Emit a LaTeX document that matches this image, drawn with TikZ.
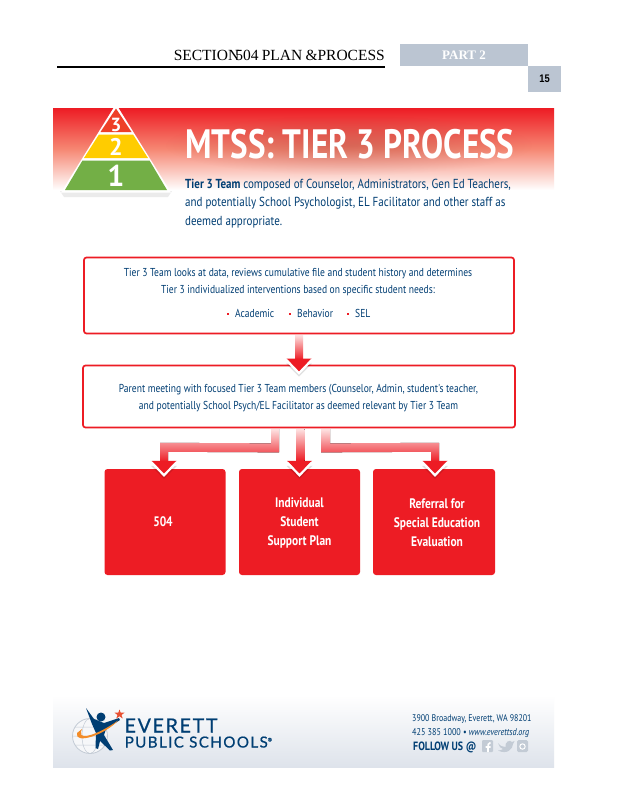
\documentclass[tikz,border=0pt]{standalone}
\usepackage{fontspec}
\usetikzlibrary{calc,shadings,fadings}
\setmainfont{PT Sans}
\newfontfamily\hdr{Liberation Serif}
\newfontfamily\arialf[FakeStretch=0.85]{Liberation Sans}
\newfontfamily\logof[LetterSpace=9,FakeBold=0.6]{Lato}
\newfontfamily\tight[FakeStretch=0.83]{PT Sans}
\newfontfamily\subf[FakeStretch=0.84]{PT Sans}
\newfontfamily\titlef[FakeStretch=0.807]{PT Sans}
\tikzfading[name=softband,inner color=transparent!0,outer color=transparent!100]
\definecolor{redm}{RGB}{237,28,36}
\definecolor{navym}{RGB}{0,62,115}
\definecolor{slatem}{RGB}{187,197,210}
\definecolor{pale}{RGB}{253,225,225}
\definecolor{iconm}{RGB}{195,203,213}
\definecolor{salmon}{RGB}{246,135,115}
\definecolor{footg}{RGB}{222,227,235}
\definecolor{tierc}{RGB}{238,64,40}
\definecolor{tierb}{RGB}{255,204,0}
\definecolor{tiera}{RGB}{115,175,70}
\definecolor{starc}{RGB}{232,80,50}
\definecolor{swoosh}{RGB}{243,140,40}
\definecolor{shadowm}{RGB}{150,50,40}
\tikzset{
  whitebox/.style={draw=redm,line width=1.7pt,rounded corners=2.5pt,fill=white,minimum height=0pt,inner sep=0pt},
  redbox/.style={fill=redm,rounded corners=3pt,text=white,align=center,font=\tight\bfseries\fontsize{13.8}{19}\selectfont,inner sep=0pt},
  bodytxt/.style={text=navym,align=center,font=\tight\fontsize{11.5}{17}\selectfont,inner sep=0pt},
  shaft/.style={top color=pale,bottom color=redm,draw=none},
  digit/.style={text=white,inner sep=0pt},
  lefttxt/.style={anchor=base west,inner sep=0pt},
  bul/.style={fill=redm,minimum size=2pt,inner sep=0pt}
}
\newcommand{\headto}[1]{%
  \fill[black,opacity=.12] ($(#1)+(-13,-11)$) -- ($(#1)+(0,2)$) -- ($(#1)+(13,-11)$) -- cycle;
  \fill[redm] ($(#1)+(-12.5,-16)$) -- ($(#1)+(12.5,-16)$) -- ($(#1)+(0,-3)$) -- cycle;
  \draw[white,line width=2.2pt] ($(#1)+(-12.5,-14.5)$) -- ($(#1)+(0,-1.5)$) -- ($(#1)+(12.5,-14.5)$);}
\begin{document}
\begin{tikzpicture}[x=1pt,y=-1pt]
\useasboundingbox (0,0) rectangle (618,800);
\fill[white] (0,0) rectangle (618,800);
% header
\node[anchor=base east,inner sep=0pt,font=\hdr\fontsize{15.5}{15.5}\selectfont,text=black] (hd) at (385,60) {\spaceskip=3.2pt SECTION\hspace{-7pt} 504 PLAN \&PROCESS};
\draw[black,line width=1.7pt] (57,67) coordinate (r1) -- (385,67) coordinate (r2);
\node[fill=slatem,minimum width=128pt,minimum height=22pt,inner sep=0pt,text=white,font=\hdr\bfseries\fontsize{13}{13}\selectfont] (part) at (464,55) {PART 2};
\node[fill=slatem,minimum width=33pt,minimum height=26pt,inner sep=0pt,text=black,font=\arialf\bfseries\fontsize{11}{11}\selectfont] (pg) at (544.5,79) {15};
% banner
\shade[top color=redm,bottom color=white,middle color=salmon] (53,108) rectangle (554,190);
% soft shade behind the title
\fill[shadowm,opacity=.3,path fading=softband,fit fading=true] (165,115) rectangle (532,175);
% pyramid
\fill[black,opacity=.08] (60,191) -- (172,191) -- (168,197) -- (64,197) -- cycle;
\fill[white] (116,104) -- (171,192.5) -- (61,192.5) -- cycle;
\fill[tierc] (116,108.5) -- (131.5,132) -- (100.5,132) -- cycle;
\fill[tierb] (99,134.5) -- (133,134.5) -- (148,158) -- (84,158) -- cycle;
\fill[tiera] (82.5,160.5) -- (149.5,160.5) -- (167,190) -- (65,190) -- cycle;
\node[digit,font=\bfseries\fontsize{19}{19}\selectfont] (t3) at (116,124.5) {3};
\node[digit,font=\bfseries\fontsize{24}{24}\selectfont] (t2) at (116,147) {2};
\node[digit,font=\bfseries\fontsize{30}{30}\selectfont] (t1) at (116,175.5) {1};
% title
\node[lefttxt,text=white,font=\titlef\bfseries\fontsize{41}{41}\selectfont] (title) at (185,158) {MTSS: TIER 3 PROCESS};
\node[lefttxt,text=navym,font=\subf\fontsize{13.1}{13.1}\selectfont] (s1) at (185,188.5) {\textbf{Tier 3 Team} composed of Counselor, Administrators, Gen Ed Teachers,};
\node[lefttxt,text=navym,font=\subf\fontsize{13.1}{13.1}\selectfont] (s2) at (185,206.5) {and potentially School Psychologist, EL Facilitator and other staff as};
\node[lefttxt,text=navym,font=\subf\fontsize{13.1}{13.1}\selectfont] (s3) at (185,225.5) {deemed appropriate.};
% boxes
\node[whitebox,minimum width=430pt,minimum height=76pt] (b1) at (299,295.5) {};
\node[whitebox,minimum width=432pt,minimum height=62pt] (b2) at (299,396.5) {};
\node[redbox,minimum width=121pt,minimum height=106pt] (c1) at (165,522) {\raisebox{1pt}{504}\hspace*{4pt}};
\node[redbox,minimum width=121pt,minimum height=106pt] (c2) at (299.5,522) {\rule{0pt}{12pt}Individual\\Student\\Support Plan};
\node[redbox,minimum width=122pt,minimum height=106pt] (c3) at (434,522) {\rule{0pt}{12pt}\hspace*{6pt}Referral for\\\hspace*{6pt}Special Education\\\hspace*{6pt}Evaluation};
% text of boxes
\node[bodytxt] (t1a) at (298,282) {Tier 3 Team looks at data, reviews cumulative file and student history and determines\\Tier 3 individualized interventions based on specific student needs:};
\node[bul] (d1) at (228,314) {}; \node[bodytxt,anchor=west] (a1) at (235,313) {Academic};
\node[bul] (d2) at (290,314) {}; \node[bodytxt,anchor=west] (a2) at (297,313) {Behavior};
\node[bul] (d3) at (348,314) {}; \node[bodytxt,anchor=west] (a3) at (355,313) {SEL};
\node[bodytxt] (t2a) at (298.5,398.5) {Parent meeting with focused Tier 3 Team members (Counselor, Admin, student's teacher,\\and potentially School Psych/EL Facilitator as deemed relevant by Tier 3 Team};
% connectors
\coordinate (h0) at ($(b2.north)+(0,10)$);
\coordinate (h1) at ($(c1.north)+(-1,8)$);
\coordinate (h2) at ($(c2.north)+(0,8)$);
\coordinate (h3) at ($(c3.north)+(1,8)$);
\fill[shaft] ($(b1.south)+(-4,0.8)$) rectangle ($(b2.north)+(4,-5)$);
\headto{h0}
\fill[shaft] ($(b2.south)+(-3,0.8)$) rectangle ($(c2.north)+(5,-8)$);
\headto{h2}
\fill[shaft] ($(b2.south)+(-20,0.8)$) -- ($(b2.south)+(-20,24)$) -- ($(c1.north)+(3,-17)$) -- ($(c1.north)+(3,-7)$) -- ($(c1.north)+(-5,-7)$) -- ($(c1.north)+(-5,-26)$) -- ($(b2.south)+(-28,15)$) -- ($(b2.south)+(-28,0.8)$) -- cycle;
\headto{h1}
\fill[shaft] ($(b2.south)+(22,0.8)$) -- ($(b2.south)+(22,24)$) -- ($(c3.north)+(-3,-17)$) -- ($(c3.north)+(-3,-7)$) -- ($(c3.north)+(5,-7)$) -- ($(c3.north)+(5,-26)$) -- ($(b2.south)+(31,15)$) -- ($(b2.south)+(31,0.8)$) -- cycle;
\headto{h3}
% footer
\shade[top color=white,bottom color=footg] (53,695) rectangle (554,767);
% logo
\draw[iconm,line width=.8pt,fill=white!85!iconm] (90,736) circle (17.5);
\draw[iconm,line width=.5pt] (90,736) ellipse (8 and 17.5) (72.5,736) -- (107.5,736) (75,727) -- (105,727) (75,745) -- (105,745);
\fill[navym] (86,708) -- (94,719) -- (104,723) -- (119,718) -- (120,720) -- (106,729) -- (104,735) -- (113,750) -- (110,750.5) -- (100,741) -- (98,749) -- (95.5,748) -- (96,733) -- (92,724) -- cycle;
\fill[navym] (101,717) circle (4.5);
\fill[swoosh] (77,733) .. controls (74,745) and (105,735) .. (118,720.5) .. controls (105,730) and (86,739) .. (81.5,735) .. controls (80.5,733) and (81,730) .. (82,729) -- cycle;
\fill[starc] (119.5,709.5) -- (120.7,712.7) -- (124.5,712.7) -- (121.5,715) -- (122.7,718.5) -- (119.5,716.3) -- (116.3,718.5) -- (117.5,715) -- (114.5,712.7) -- (118.3,712.7) -- cycle;
\node[lefttxt,text=navym,font=\logof\fontsize{19.5}{19.5}\selectfont] (ev) at (124.5,732.5) {EVERETT};
\node[lefttxt,text=navym,font=\logof\fontsize{15.2}{15.2}\selectfont] (pu) at (124.5,747.5) {PUBLIC SCHOOLS\raisebox{6pt}{\fontsize{5}{5}\selectfont ®}};
\node[lefttxt,text=navym,font=\tight\fontsize{9.6}{9.6}\selectfont] (f1) at (412,721.5) {3900 Broadway, Everett, WA 98201};
\node[lefttxt,text=navym,font=\tight\fontsize{9.8}{9.8}\selectfont] (f2) at (412,735.5) {425 385 1000 • \textit{www.everettsd.org}};
\node[lefttxt,text=navym,font=\tight\bfseries\fontsize{12}{12}\selectfont] (f3) at (413,750.5) {FOLLOW US @};
% icons
\fill[iconm,rounded corners=1pt] (482,740) rectangle (493,752);
\draw[white,line width=1.6pt] (490.5,742.5) .. controls (488,742.5) and (488,744) .. (488,752) (485.5,747) -- (490.5,747);
\fill[iconm] (498,743) .. controls (500,746) and (503,747) .. (505.5,747) .. controls (504.5,742) and (510,739) .. (512,742) -- (514.5,741) -- (513,744) .. controls (513,749) and (507,755) .. (498,750.5) .. controls (500,750.5) and (502,750) .. (503,749) .. controls (500.5,749) and (499,746) .. (498,743) -- cycle;
\fill[iconm,rounded corners=1.5pt] (517,740) rectangle (528,752);
\draw[white,line width=1pt] (522.5,746.5) circle (2.7);
\end{tikzpicture}
\end{document}
